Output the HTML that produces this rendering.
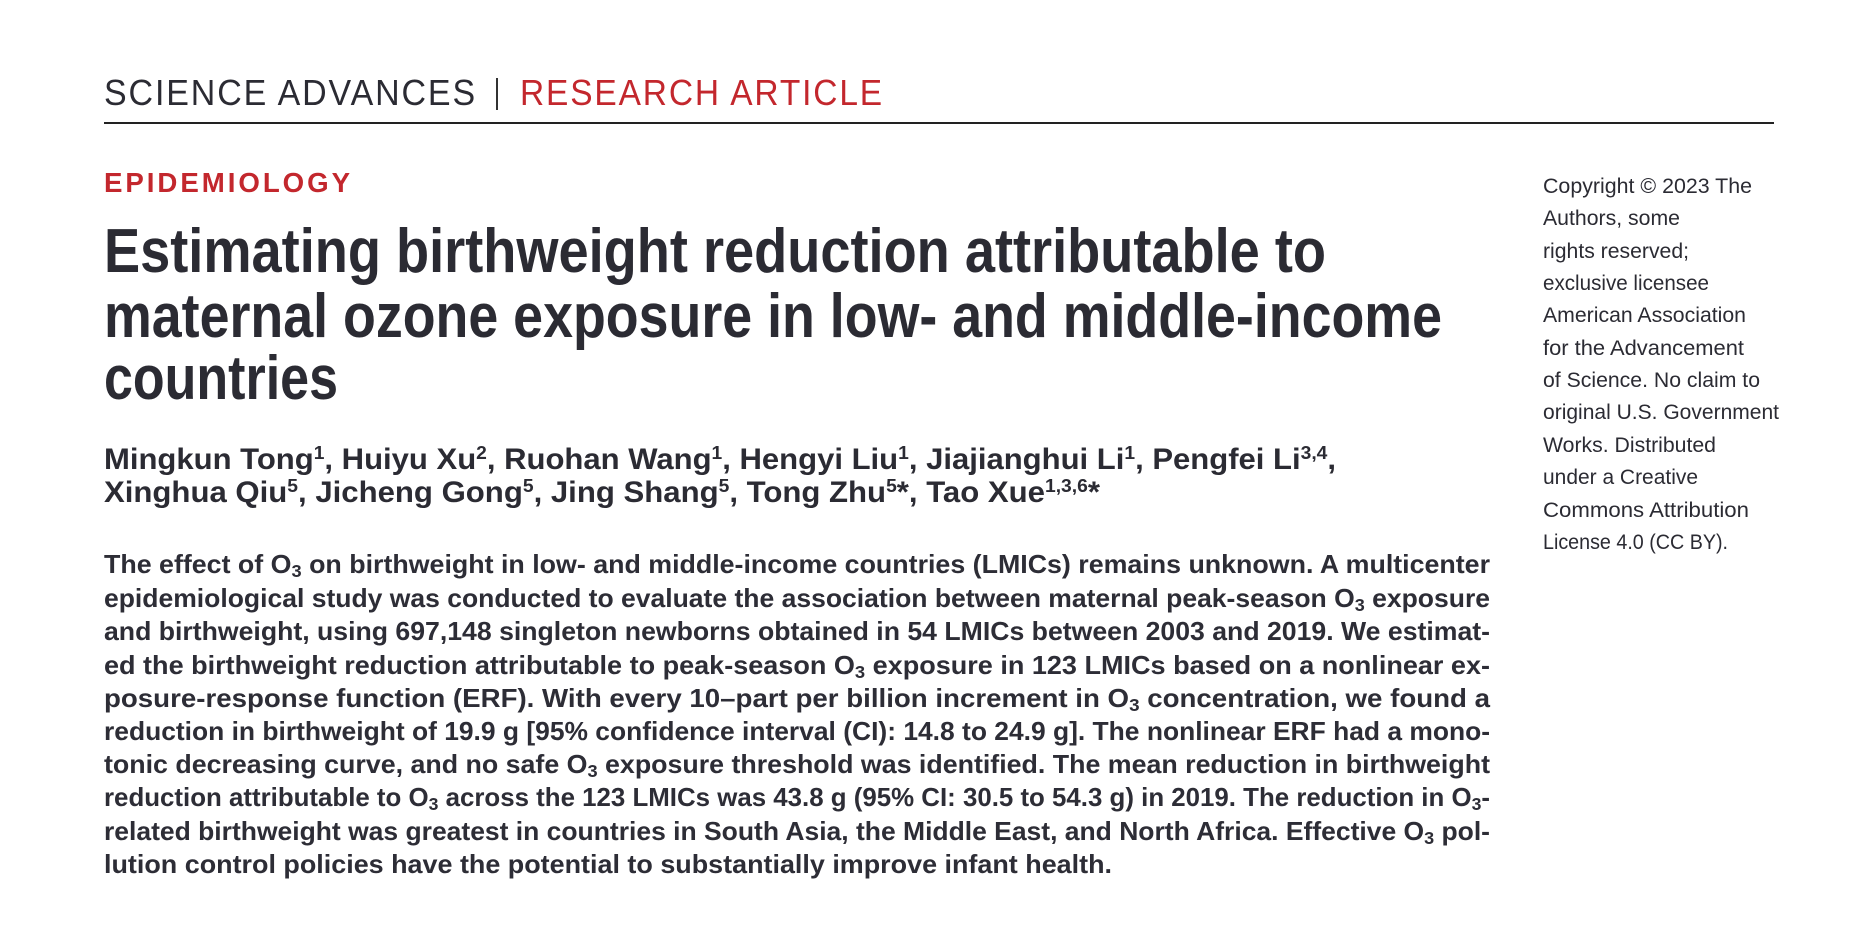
<!DOCTYPE html>
<html><head><meta charset="utf-8">
<style>
html,body{margin:0;padding:0;background:#fff;}
body{width:1869px;height:934px;position:relative;overflow:hidden;font-family:"Liberation Sans",sans-serif;color:#2b2b33;}
.l{position:absolute;white-space:nowrap;line-height:1;transform-origin:0 0;}
sub{font-size:0.68em;vertical-align:-0.22em;line-height:0;}
sup{font-size:0.62em;vertical-align:0.55em;line-height:0;}
.hd{font-size:36px;letter-spacing:2px;}
.red{color:#c3272d;}
.ep{font-size:28px;font-weight:bold;letter-spacing:3px;color:#c3272d;}
.ti{font-size:62px;font-weight:bold;color:#2b2b33;}
.au{font-size:30px;font-weight:bold;}
.ab{font-size:26px;font-weight:bold;color:#2d2d36;}
.sb{font-size:21px;color:#2b2b33;}
#rule{position:absolute;left:104px;top:122px;width:1670px;height:2px;background:#222;}
#bar{position:absolute;left:496px;top:78px;width:2px;height:32px;background:#333;}
</style></head><body>
<div class="l hd" style="left:104px;top:75px" data-w="373">SCIENCE ADVANCES</div>
<div id="bar"></div>
<div class="l hd red" style="left:520px;top:75px" data-w="364">RESEARCH ARTICLE</div>
<div id="rule"></div>
<div class="l ep" style="left:104px;top:169px" data-w="249">EPIDEMIOLOGY</div>

<div class="l ti" style="left:104px;top:221px" data-w="1222">Estimating birthweight reduction attributable to</div>
<div class="l ti" style="left:104px;top:286px" data-w="1338">maternal ozone exposure in low- and middle-income</div>
<div class="l ti" style="left:104px;top:348px" data-w="234">countries</div>

<div class="l au" style="left:104px;top:445px" data-w="1232">Mingkun Tong<sup>1</sup>, Huiyu Xu<sup>2</sup>, Ruohan Wang<sup>1</sup>, Hengyi Liu<sup>1</sup>, Jiajianghui Li<sup>1</sup>, Pengfei Li<sup>3,4</sup>,</div>
<div class="l au" style="left:104px;top:478px" data-w="996">Xinghua Qiu<sup>5</sup>, Jicheng Gong<sup>5</sup>, Jing Shang<sup>5</sup>, Tong Zhu<sup>5</sup>*, Tao Xue<sup>1,3,6</sup>*</div>

<div class="l ab" style="left:104px;top:551px" data-w="1386">The effect of O<sub>3</sub> on birthweight in low- and middle-income countries (LMICs) remains unknown. A multicenter</div>
<div class="l ab" style="left:104px;top:585px" data-w="1386">epidemiological study was conducted to evaluate the association between maternal peak-season O<sub>3</sub> exposure</div>
<div class="l ab" style="left:104px;top:618px" data-w="1386">and birthweight, using 697,148 singleton newborns obtained in 54 LMICs between 2003 and 2019. We estimat-</div>
<div class="l ab" style="left:104px;top:652px" data-w="1386">ed the birthweight reduction attributable to peak-season O<sub>3</sub> exposure in 123 LMICs based on a nonlinear ex-</div>
<div class="l ab" style="left:104px;top:685px" data-w="1386">posure-response function (ERF). With every 10–part per billion increment in O<sub>3</sub> concentration, we found a</div>
<div class="l ab" style="left:104px;top:718px" data-w="1386">reduction in birthweight of 19.9 g [95% confidence interval (CI): 14.8 to 24.9 g]. The nonlinear ERF had a mono-</div>
<div class="l ab" style="left:104px;top:751px" data-w="1386">tonic decreasing curve, and no safe O<sub>3</sub> exposure threshold was identified. The mean reduction in birthweight</div>
<div class="l ab" style="left:104px;top:784px" data-w="1386">reduction attributable to O<sub>3</sub> across the 123 LMICs was 43.8 g (95% CI: 30.5 to 54.3 g) in 2019. The reduction in O<sub>3</sub>-</div>
<div class="l ab" style="left:104px;top:818px" data-w="1386">related birthweight was greatest in countries in South Asia, the Middle East, and North Africa. Effective O<sub>3</sub> pol-</div>
<div class="l ab" style="left:104px;top:851px" data-w="1008">lution control policies have the potential to substantially improve infant health.</div>

<div class="l sb" style="left:1543px;top:176px" data-w="209">Copyright © 2023 The</div>
<div class="l sb" style="left:1543px;top:208px" data-w="137">Authors, some</div>
<div class="l sb" style="left:1543px;top:241px" data-w="146">rights reserved;</div>
<div class="l sb" style="left:1543px;top:273px" data-w="166">exclusive licensee</div>
<div class="l sb" style="left:1543px;top:305px" data-w="203">American Association</div>
<div class="l sb" style="left:1543px;top:338px" data-w="201">for the Advancement</div>
<div class="l sb" style="left:1543px;top:370px" data-w="217">of Science. No claim to</div>
<div class="l sb" style="left:1543px;top:402px" data-w="236">original U.S. Government</div>
<div class="l sb" style="left:1543px;top:435px" data-w="173">Works. Distributed</div>
<div class="l sb" style="left:1543px;top:467px" data-w="155">under a Creative</div>
<div class="l sb" style="left:1543px;top:500px" data-w="206">Commons Attribution</div>
<div class="l sb" style="left:1543px;top:532px" data-w="185">License 4.0 (CC BY).</div>

<script>
document.querySelectorAll('.l').forEach(function(e){
  var t=parseFloat(e.getAttribute('data-w'));
  var w=e.getBoundingClientRect().width;
  if(t&&w){e.style.transform='scaleX('+(t/w)+')';}
});
</script>
</body></html>
